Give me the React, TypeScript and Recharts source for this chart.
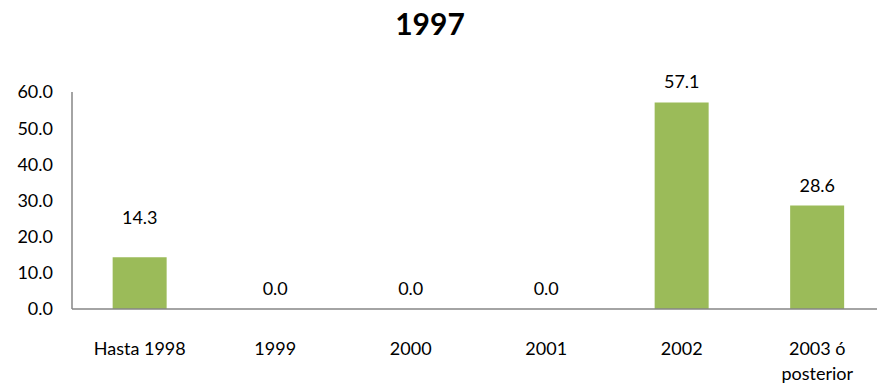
import React from 'react';
import { ComposedChart, Bar, Line, XAxis, YAxis, LabelList } from 'recharts';

const categories = ['Hasta 1998', '1999', '2000', '2001', '2002', '2003 ó posterior'];
const values = [14.3, 0.0, 0.0, 0.0, 57.1, 28.6];
const yTicks = [0, 10, 20, 30, 40, 50, 60];
const title = '1997';

const data = categories.map((name, i) => ({ name, value: values[i] }));

const FONT = 'Lato, "Open Sans", sans-serif';

// wrap long category names onto two lines, like the original
const wrap = (s: string, max = 10) => {
  const words = s.split(' ');
  const lines: string[] = [];
  let cur = '';
  words.forEach((w) => {
    const next = cur ? cur + ' ' + w : w;
    if (next.length > max && cur) {
      lines.push(cur);
      cur = w;
    } else {
      cur = next;
    }
  });
  if (cur) lines.push(cur);
  return lines;
};

const XTick = (props: any) => {
  const { x, y, payload } = props;
  const lines = wrap(String(payload.value));
  return (
    <text x={x} y={y} textAnchor="middle" fill="#000" fontSize={18} fontFamily={FONT}>
      {lines.map((l, i) => (
        <tspan key={i} x={x} dy={i === 0 ? 44 : 25}>
          {l}
        </tspan>
      ))}
    </text>
  );
};

// labels hang off an invisible line so zero values still get one
const ValueLabel = (props: any) => {
  const { x, y, value, index } = props;
  // the first label sits higher in the source chart
  const lift = index === 0 ? 33 : 14;
  return (
    <text x={x} y={y - lift} textAnchor="middle" fill="#000" fontSize={18} fontFamily={FONT}>
      {Number(value).toFixed(1)}
    </text>
  );
};

export default function App() {
  return (
    <div style={{ position: 'absolute', left: 0, top: 0, width: 877, height: 387, overflow: 'hidden', background: '#fff' }}>
      <div
        style={{
          position: 'absolute',
          left: 0,
          width: 860,
          top: 7,
          textAlign: 'center',
          fontFamily: FONT,
          fontWeight: 'bold',
          fontSize: 30,
          lineHeight: '32px',
        }}
      >
        {title}
      </div>
      <ComposedChart
        width={890}
        height={387}
        data={data}
        margin={{ top: 92, right: 5, bottom: 18, left: 12 }}
        barCategoryGap="30%"
      >
        <XAxis
          dataKey="name"
          interval={0}
          height={60}
          tickLine={false}
          tickSize={0}
          tick={<XTick />}
          axisLine={{ stroke: '#868686', strokeWidth: 1.5 }}
        />
        <YAxis
          width={60}
          domain={[0, 60]}
          ticks={yTicks}
          interval={0}
          tickLine={false}
          tickSize={0}
          tickMargin={19}
          tickFormatter={(v: number) => v.toFixed(1)}
          tick={{ fill: '#000', fontSize: 18, fontFamily: FONT }}
          axisLine={{ stroke: '#868686', strokeWidth: 1.5 }}
        />
        <Bar dataKey="value" fill="#9BBB59" isAnimationActive={false} />
        <Line
          dataKey="value"
          stroke="none"
          dot={false}
          activeDot={false}
          legendType="none"
          isAnimationActive={false}
        >
          <LabelList dataKey="value" content={<ValueLabel />} />
        </Line>
      </ComposedChart>
    </div>
  );
}
